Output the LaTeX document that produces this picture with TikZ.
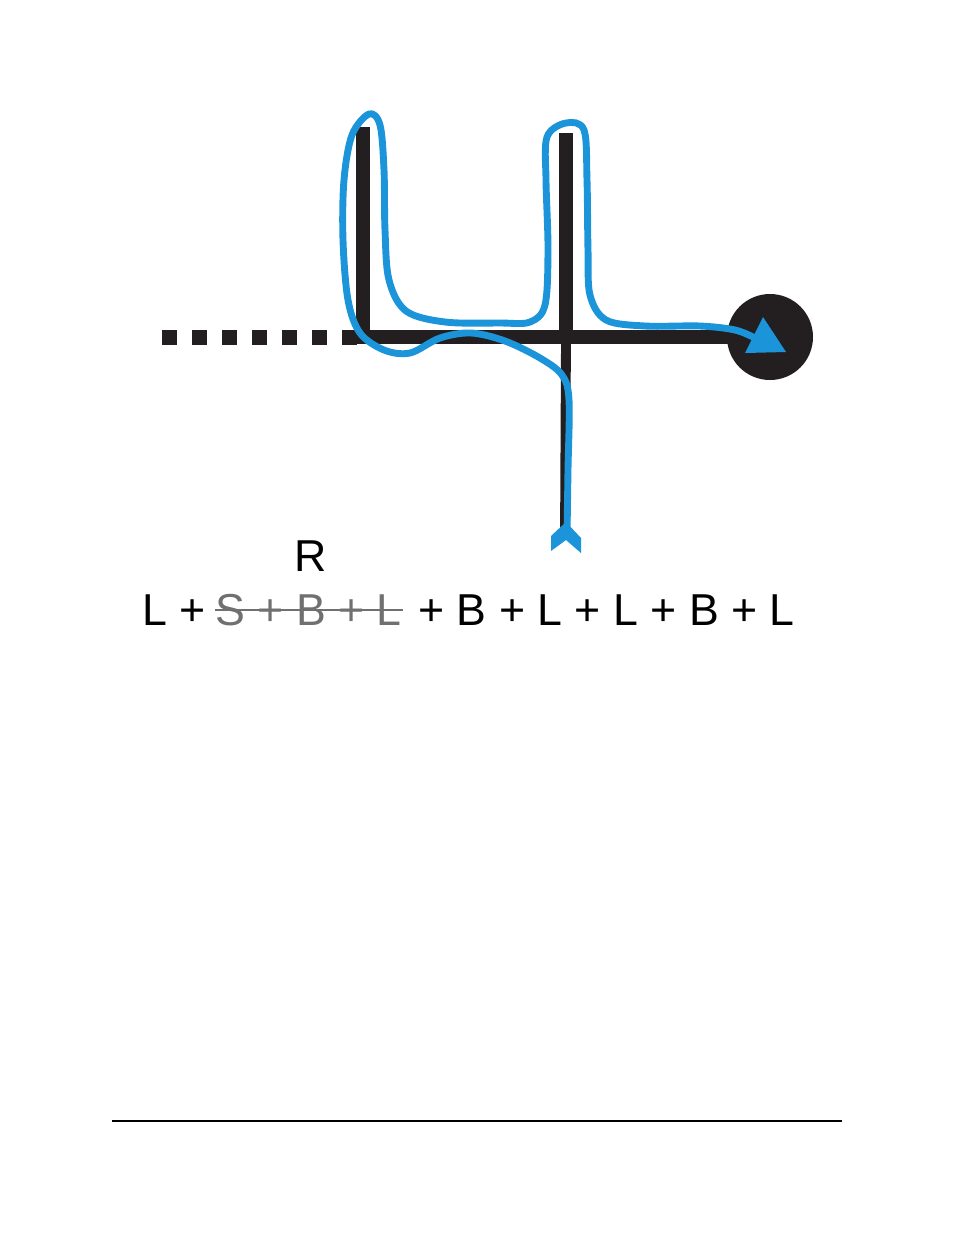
\documentclass[tikz,border=0pt]{standalone}
\usepackage{fontspec}
\setmainfont{Liberation Sans}
\usetikzlibrary{positioning}
\definecolor{ink}{RGB}{35,31,32}
\definecolor{route}{RGB}{28,148,217}
\definecolor{crossed}{RGB}{112,112,112}
\tikzset{
    bar/.style={ink, line width=10.6pt},
    mainbar/.style={ink, line width=10.6pt},
    thinbar/.style={ink, line width=7pt},
    dashbox/.style={fill=ink},
    goalspot/.style={circle, fill=ink, inner sep=0, minimum size=21.5mm},
    path/.style={route, line width=4.9pt, line cap=round, line join=round},
    word/.style={inner sep=0, anchor=base west, font=\fontsize{31.8}{38}\selectfont},
}
\begin{document}
\begin{tikzpicture}[x=0.25mm, y=-0.25mm]
        \useasboundingbox (0, 0) rectangle (954, 1235);

        %%points of the streets
        \coordinate (leftfoot) at (355, 337);
        \coordinate (leftbar) at (363, 337);
        \coordinate (lefttop) at (363, 127);
        \coordinate (cross) at (566, 337);
        \coordinate (righttop) at (566, 133);
        \coordinate (rightfoot) at (565, 535);
        \node[goalspot] (goal) at (770, 337){};

        %%draw the streets
        \foreach \i in {0,...,6}
            \fill[dashbox] (162+30*\i, 329.5) rectangle +(15, 15);
        \draw[mainbar] (leftfoot) to (goal.center);
        \draw[bar] (leftbar) to (lefttop);
        \draw[bar] (cross) to (righttop);
        \draw[thinbar] (cross) to (rightfoot);

        %%draw the route
        \draw[path] plot[smooth, tension=0.55] coordinates {
            (567, 536) (568, 470) (569, 400) (562, 375) (540, 358) (505, 341)
            (471, 333) (440, 338) (410, 353) (384, 350) (360, 333) (348, 300)
            (343, 240) (344, 180) (352, 135) (369, 114) (380, 125) (384, 170)
            (385, 230) (389, 280) (406, 311) (445, 322) (500, 323) (530, 322)
            (545, 305) (548, 250) (546, 180) (547, 137) (566, 123) (584, 130)
            (587, 180) (588, 250) (590, 295) (606, 320) (645, 326) (700, 326)
            (735, 330) (755, 338)};
        \fill[route] (763, 317) -- (786, 352) -- (745, 353) -- cycle;
        \fill[route] (566, 522) -- (581, 538) -- (581, 553) -- (566, 540)
            -- (551, 551) -- (551, 536) -- cycle;

        %%the rule
        \node[word, anchor=base] (turn) at (311, 571){R};
        \node[word] (first) at (142, 625){L +};
        \node[word, crossed] (skipped) at (215, 625){S + B + L};
        \node[word] (rest) at (418, 625){+ B + L + L + B + L};
        \draw[crossed, line width=1.4pt] (skipped.west) to ([xshift=1pt]skipped.east);

        %%line at the foot of the page
        \draw[black, line width=0.9pt] (112, 1121) to (842, 1121);

    \end{tikzpicture}
\end{document}
